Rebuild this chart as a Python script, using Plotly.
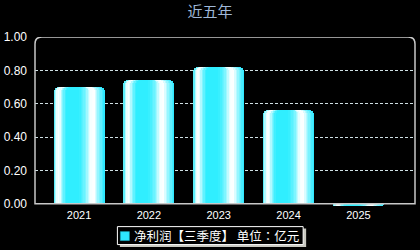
import plotly.graph_objects as go

# ---- data ----
years = ["2021", "2022", "2023", "2024", "2025"]
profit = [0.70, 0.745, 0.82, 0.565, -0.013]
y_ticks = [0, 0.2, 0.4, 0.6, 0.8, 1.0]
y_tick_text = ["0.00", "0.20", "0.40", "0.60", "0.80", "1.00"]
title_text = "近五年"
legend_text = "净利润【三季度】 单位：亿元"

# ---- layout geometry ----
W, H = 420, 250
ML, MR, MT = 34.5, 5, 37
px_per_unit = 167.0
y_range = [-0.02, 1.0]
plot_h = (y_range[1] - y_range[0]) * px_per_unit
MB = H - MT - plot_h
plot_w = W - ML - MR


def xp(px):
    return (px - ML) / plot_w


def yp(py):
    return (H - MB - py) / plot_h


bar_w = 0.73
N = 36
stops = [(0.00, (0x30, 0xE6, 0xF6)), (0.04, (0xB0, 0xFA, 0xFF)), (0.08, (0xFF, 0xFF, 0xFF)),
         (0.12, (0xF0, 0xFF, 0xFF)), (0.17, (0x90, 0xF6, 0xFF)), (0.25, (0x30, 0xEE, 0xFF)),
         (0.50, (0x30, 0xEE, 0xFF)), (0.62, (0x78, 0xF4, 0xFF)), (0.72, (0xF4, 0xFF, 0xFF)),
         (0.79, (0xFF, 0xFF, 0xFF)), (0.88, (0x90, 0xF6, 0xFF)), (1.00, (0x22, 0xE6, 0xFF))]


def grad(t):
    for (a, ca), (b, cb) in zip(stops[:-1], stops[1:]):
        if a <= t <= b:
            f = (t - a) / (b - a) if b > a else 0
            c = [round(ca[i] + (cb[i] - ca[i]) * f) for i in range(3)]
            return "rgb({},{},{})".format(*c)
    return "rgb(34,230,255)"


# nested bars (left edge steps, then right edge steps) -> horizontal gradient with rounded tops
spans = []
half = N // 2
for j in range(half):
    l = j / N
    spans.append((l, 1.0, grad((j + 0.5) / N)))
for j in range(N - half):
    r = 1 - j / N
    spans.append((half / N, r, grad(r - 0.5 / N)))

fig = go.Figure()
for l, r, col in spans:
    fig.add_trace(go.Bar(
        x=years, y=profit, width=(r - l) * bar_w, offset=-bar_w / 2 + l * bar_w,
        marker=dict(color=col, line=dict(width=0), cornerradius=5),
        showlegend=False, hoverinfo="skip",
    ))

# rounded plot border
rx = 7 / plot_w
ry = 7 / px_per_unit
border_path = f"M 0,0 L 0,{1 - ry} Q 0,1 {rx},1 L {1 - rx},1 Q 1,1 1,{1 - ry} L 1,0 Z"
fig.add_shape(type="path", path=border_path, xref="paper", yref="y",
              line=dict(color="#C8C8C8", width=1.5), layer="above")

# legend box (shadow, frame, swatch)
fig.add_shape(type="rect", xref="paper", yref="paper",
              x0=xp(119.5), x1=xp(306), y0=yp(247.5), y1=yp(229),
              fillcolor="#C8C8C0", line=dict(width=0), layer="above")
fig.add_shape(type="rect", xref="paper", yref="paper",
              x0=xp(117), x1=xp(303), y0=yp(245), y1=yp(227),
              fillcolor="black", line=dict(color="white", width=1), layer="above")
fig.add_shape(type="rect", xref="paper", yref="paper",
              x0=xp(120), x1=xp(129), y0=yp(241), y1=yp(232),
              fillcolor="#2EE6FF", line=dict(color="#1AB8CC", width=0.5), layer="above")
fig.add_annotation(text=legend_text, xref="paper", yref="paper", x=xp(132), y=yp(236),
                   xanchor="left", yanchor="middle", showarrow=False,
                   font=dict(family="Noto Sans CJK TC", size=12.5, color="white"))

fig.update_layout(
    width=W, height=H,
    margin=dict(l=ML, r=MR, t=MT, b=MB, pad=0),
    paper_bgcolor="black", plot_bgcolor="black",
    barmode="overlay", bargap=0,
    title=dict(text=title_text, x=0.5, xanchor="center", y=1 - 12 / H, yanchor="middle",
               xref="container", yref="container",
               font=dict(family="Noto Sans CJK SC", size=15, color="#9FB8D8")),
    xaxis=dict(type="category", range=[-0.63, 4.81], showgrid=False, zeroline=False,
               showline=False, ticks="", tickfont=dict(family="Liberation Sans", size=11, color="white"),
               ticklabelstandoff=0),
    yaxis=dict(range=y_range, tickvals=y_ticks, ticktext=y_tick_text, showgrid=True,
               gridcolor="#CFE0E4", griddash="3px,2px", gridwidth=1, zeroline=False,
               showline=False, ticks="", ticklabelstandoff=7,
               tickfont=dict(family="Liberation Sans", size=12, color="white")),
    showlegend=False,
)

fig.write_html("out.html")
